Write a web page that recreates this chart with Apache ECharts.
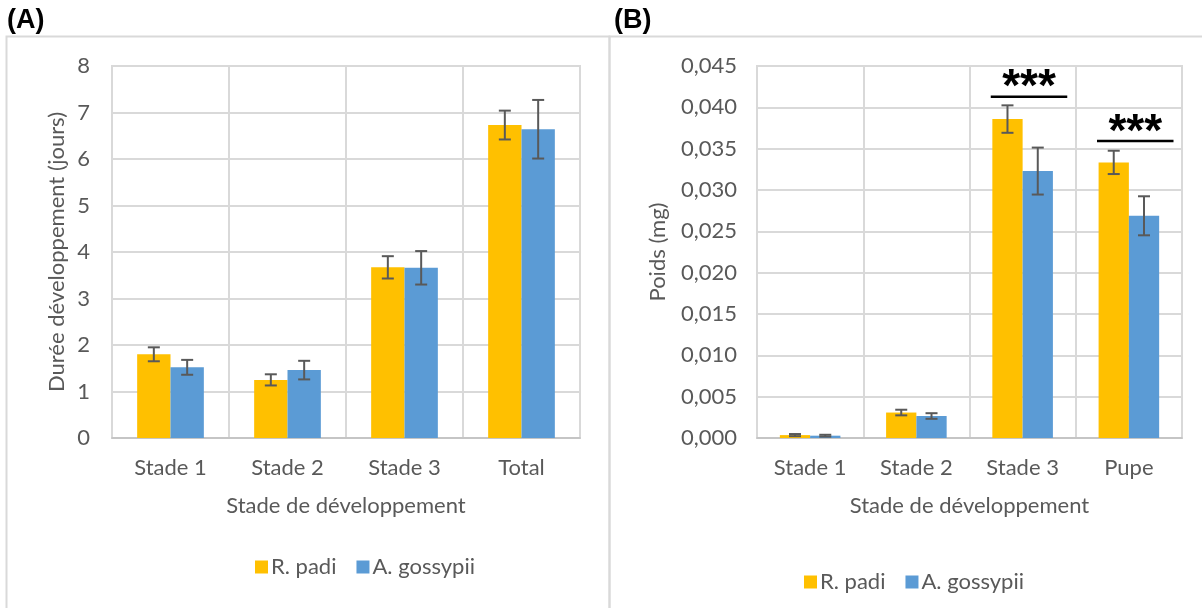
<!DOCTYPE html>
<html>
<head>
<meta charset="utf-8">
<script src="https://cdn.jsdelivr.net/npm/echarts@6/dist/echarts.min.js"></script>
<style>
  html, body { margin: 0; padding: 0; background: #fff; }
  #chart { width: 1202px; height: 608px; }
</style>
</head>
<body>
<div id="chart"></div>
<script>
// Panel A: development time per stage (days)
const stagesA = ['Stade 1', 'Stade 2', 'Stade 3', 'Total'];
const padiDuree = [1.80, 1.25, 3.67, 6.73];
const padiDureeErr = [0.15, 0.12, 0.24, 0.31];
const gossDuree = [1.52, 1.46, 3.66, 6.64];
const gossDureeErr = [0.16, 0.20, 0.36, 0.63];

// Panel B: weight per stage (mg)
const stagesB = ['Stade 1', 'Stade 2', 'Stade 3', 'Pupe'];
const padiPoids = [0.00035, 0.00308, 0.03858, 0.03334];
const padiPoidsErr = [0.00013, 0.00034, 0.00166, 0.00141];
const gossPoids = [0.00028, 0.00266, 0.03229, 0.02688];
const gossPoidsErr = [0.00011, 0.00034, 0.00284, 0.00236];

// Significance brackets in panel B
const sigStages = ['Stade 3', 'Pupe'];
const sigLevels = [0.04128, 0.03592];
const sigLabel = '***';

const seriesNames = ['R. padi', 'A. gossypii'];
const colors = ['#FFC000', '#5B9BD5'];

const FONT = 'Lato';
const FS = 22;
const TXT = '#595959';
const GRIDC = '#d9d9d9';
const CAT_GAP = 0.43;

const chart = echarts.init(document.getElementById('chart'), null, { renderer: 'canvas' });

// Error bar drawn at the centre of one of the two bars in a category
function errorBars(side) {
  return function (params, api) {
    const cat = api.value(0);
    const v = api.value(1);
    const e = api.value(2);
    const catW = api.size([1, 0])[0];
    const barW = catW * (1 - CAT_GAP) / 2;
    const base = api.coord([cat, v]);
    const x = base[0] + (side === 0 ? -barW / 2 : barW / 2);
    const top = api.coord([cat, v + e])[1];
    const bot = api.coord([cat, v - e])[1];
    const cap = 6;
    const style = { stroke: '#595959', lineWidth: 2 };
    return {
      type: 'group',
      children: [
        { type: 'line', shape: { x1: x, y1: top, x2: x, y2: bot }, style: style },
        { type: 'line', shape: { x1: x - cap, y1: top, x2: x + cap, y2: top }, style: style },
        { type: 'line', shape: { x1: x - cap, y1: bot, x2: x + cap, y2: bot }, style: style }
      ]
    };
  };
}

// Horizontal bar with stars above it, spanning both bars of a category
function sigBracket(params, api) {
  const cat = api.value(0);
  const lvl = api.value(1);
  const catW = api.size([1, 0])[0];
  const p = api.coord([cat, lvl]);
  const x1 = p[0] - catW * 0.30;
  const x2 = p[0] + catW * 0.42;
  return {
    type: 'group',
    children: [
      { type: 'line', shape: { x1: x1, y1: p[1], x2: x2, y2: p[1] },
        style: { stroke: '#000', lineWidth: 2.6 } },
      { type: 'text', x: (x1 + x2) / 2, y: p[1] + 15,
        style: { text: sigLabel, fill: '#000', font: 'bold 46px "Liberation Sans"',
                 align: 'center', verticalAlign: 'bottom' } }
    ]
  };
}

const fmtB = v => v.toFixed(3).replace('.', ',');

function xAxisCfg(idx, cats) {
  return {
    type: 'category', gridIndex: idx, data: cats,
    name: 'Stade de développement', nameLocation: 'middle', nameGap: 57,
    nameTextStyle: { color: TXT, fontFamily: FONT, fontSize: FS },
    axisLine: { show: true, lineStyle: { color: '#bfbfbf', width: 1.5 } },
    axisTick: { show: false },
    axisLabel: { color: TXT, fontFamily: FONT, fontSize: FS, margin: 19 },
    splitLine: { show: true, lineStyle: { color: GRIDC, width: 2 } }
  };
}

function legendCfg(left, top) {
  return {
    data: seriesNames, left: left, top: top, icon: 'rect', itemWidth: 13, itemHeight: 13,
    itemGap: 20, selectedMode: false,
    textStyle: { color: TXT, fontFamily: FONT, fontSize: FS, padding: [0, 0, 0, -2] }
  };
}

const option = {
  animation: false,
  backgroundColor: '#fff',
  textStyle: { fontFamily: FONT },
  grid: [
    { left: 112, right: 622, top: 66, bottom: 170, show: true, borderColor: GRIDC, borderWidth: 2 },
    { left: 757, right: 20, top: 66, bottom: 170, show: true, borderColor: GRIDC, borderWidth: 2 }
  ],
  xAxis: [xAxisCfg(0, stagesA), xAxisCfg(1, stagesB)],
  yAxis: [
    {
      type: 'value', gridIndex: 0, min: 0, max: 8, interval: 1,
      name: 'Durée développement (jours)', nameLocation: 'middle', nameGap: 44,
      nameTextStyle: { color: TXT, fontFamily: FONT, fontSize: FS },
      axisLine: { show: false }, axisTick: { show: false },
      axisLabel: { color: TXT, fontFamily: FONT, fontSize: FS, margin: 22 },
      splitLine: { lineStyle: { color: GRIDC, width: 2 } }
    },
    {
      type: 'value', gridIndex: 1, min: 0, max: 0.045, interval: 0.005,
      name: 'Poids (mg)', nameLocation: 'middle', nameGap: 88,
      nameTextStyle: { color: TXT, fontFamily: FONT, fontSize: FS },
      axisLine: { show: false }, axisTick: { show: false },
      axisLabel: { color: TXT, fontFamily: FONT, fontSize: FS, margin: 20, formatter: fmtB },
      splitLine: { lineStyle: { color: GRIDC, width: 2 } }
    }
  ],
  legend: [legendCfg(250, 551), legendCfg(799, 566)],
  graphic: [
    { type: 'rect', shape: { x: 6.5, y: 36.5, width: 603, height: 600 },
      style: { fill: 'none', stroke: GRIDC, lineWidth: 2 }, silent: true },
    { type: 'rect', shape: { x: 609.5, y: 36.5, width: 620, height: 600 },
      style: { fill: 'none', stroke: GRIDC, lineWidth: 2 }, silent: true },
    { type: 'text', left: 7, top: 7,
      style: { text: '(A)', fill: '#000', font: 'bold 27px "Liberation Sans"' } },
    { type: 'text', left: 614, top: 7,
      style: { text: '(B)', fill: '#000', font: 'bold 27px "Liberation Sans"' } }
  ],
  series: [
    { name: seriesNames[0], type: 'bar', xAxisIndex: 0, yAxisIndex: 0, data: padiDuree,
      itemStyle: { color: colors[0] }, barGap: '0%', barCategoryGap: (CAT_GAP * 100) + '%' },
    { name: seriesNames[1], type: 'bar', xAxisIndex: 0, yAxisIndex: 0, data: gossDuree,
      itemStyle: { color: colors[1] }, barGap: '0%', barCategoryGap: (CAT_GAP * 100) + '%' },
    { name: seriesNames[0], type: 'bar', xAxisIndex: 1, yAxisIndex: 1, data: padiPoids,
      itemStyle: { color: colors[0] }, barGap: '0%', barCategoryGap: (CAT_GAP * 100) + '%' },
    { name: seriesNames[1], type: 'bar', xAxisIndex: 1, yAxisIndex: 1, data: gossPoids,
      itemStyle: { color: colors[1] }, barGap: '0%', barCategoryGap: (CAT_GAP * 100) + '%' },
    { type: 'custom', xAxisIndex: 0, yAxisIndex: 0, z: 5, renderItem: errorBars(0),
      data: padiDuree.map((v, i) => [i, v, padiDureeErr[i]]) },
    { type: 'custom', xAxisIndex: 0, yAxisIndex: 0, z: 5, renderItem: errorBars(1),
      data: gossDuree.map((v, i) => [i, v, gossDureeErr[i]]) },
    { type: 'custom', xAxisIndex: 1, yAxisIndex: 1, z: 5, renderItem: errorBars(0),
      data: padiPoids.map((v, i) => [i, v, padiPoidsErr[i]]) },
    { type: 'custom', xAxisIndex: 1, yAxisIndex: 1, z: 5, renderItem: errorBars(1),
      data: gossPoids.map((v, i) => [i, v, gossPoidsErr[i]]) },
    { type: 'custom', xAxisIndex: 1, yAxisIndex: 1, z: 6, renderItem: sigBracket, clip: false,
      data: sigStages.map((s, i) => [stagesB.indexOf(s), sigLevels[i]]) }
  ]
};

chart.setOption(option);
</script>
</body>
</html>
